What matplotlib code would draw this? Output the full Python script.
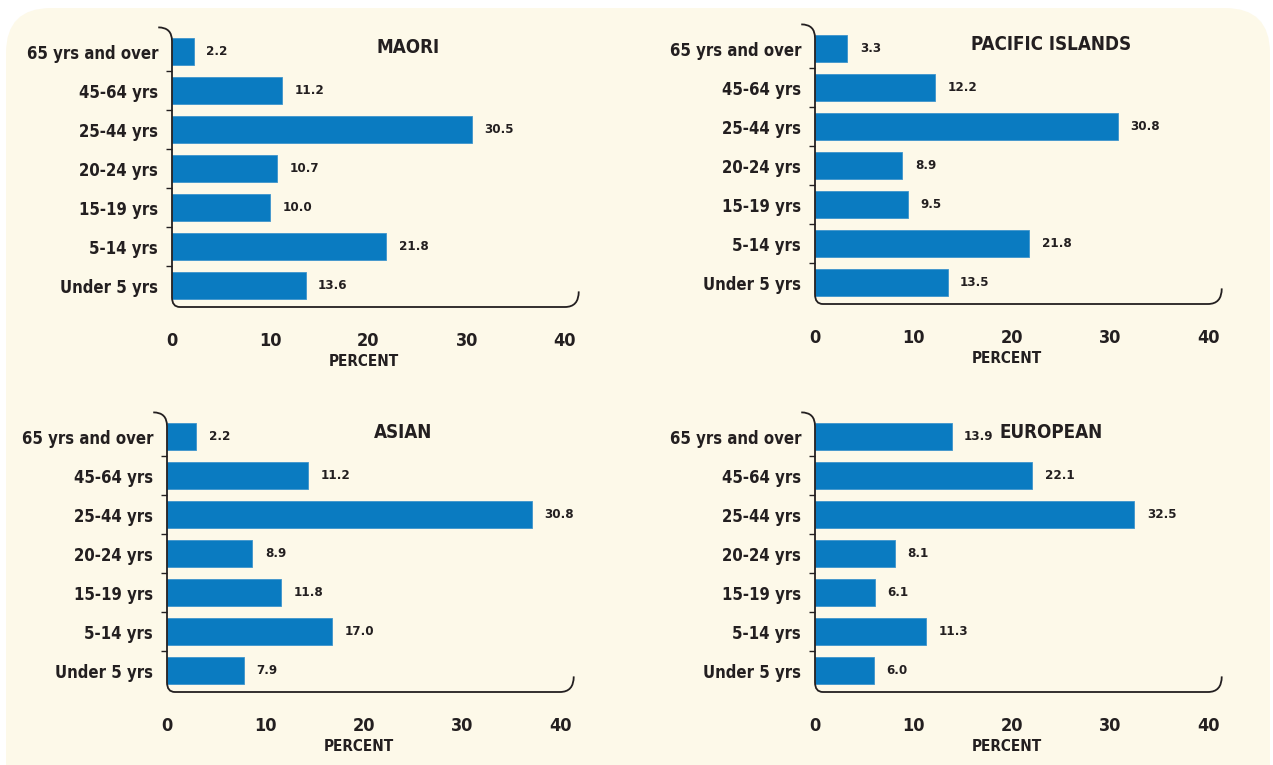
import matplotlib.pyplot as plt
from matplotlib.patches import FancyBboxPatch, PathPatch
from matplotlib.path import Path
from matplotlib.transforms import IdentityTransform

# age groups, bottom to top
ages = ["Under 5 yrs", "5-14 yrs", "15-19 yrs", "20-24 yrs", "25-44 yrs", "45-64 yrs", "65 yrs and over"]

maori = [13.6, 21.8, 10.0, 10.7, 30.5, 11.2, 2.2]
pacific = [13.5, 21.8, 9.5, 8.9, 30.8, 12.2, 3.3]
# asian bars in the picture are longer than their printed numbers
asian = [7.8, 16.8, 11.6, 8.7, 37.1, 14.4, 3.0]
asian_text = ["7.9", "17.0", "11.8", "8.9", "30.8", "11.2", "2.2"]
european = [6.0, 11.3, 6.1, 8.1, 32.5, 22.1, 13.9]

titles = ["MAORI", "PACIFIC ISLANDS", "ASIAN", "EUROPEAN"]
xticks = [0, 10, 20, 30, 40]

BLUE = "#0A7BC1"
INK = "#231F20"

plt.rcParams["font.family"] = ["DejaVu Sans"]
plt.rcParams["font.stretch"] = "condensed"

fig = plt.figure(figsize=(12.73, 7.65), dpi=100)
fig.patch.set_facecolor("white")

# cream rounded panel behind everything
bg = FancyBboxPatch((6, -60), 1264, 817, boxstyle="round,pad=0,rounding_size=45",
                    facecolor="#FDF9E9", edgecolor="none",
                    transform=IdentityTransform(), zorder=-10)
fig.add_artist(bg)

W, H = 1273, 765
# left edge (x=0) and bottom spine, in pixels from the top-left
boxes = [(172, 307), (815, 304), (167, 692), (815, 692)]
YLO, YHI = -0.55, 6.62


def panel(left_px, bottom_px, values, texts, title):
    w = 393 / W
    h = (YHI - YLO) * 39 / H
    ax = fig.add_axes([left_px / W, 1 - bottom_px / H, w, h])
    ax.set_facecolor("none")
    y = range(len(ages))
    ax.barh(y, values, height=0.7, color=BLUE, edgecolor="#3E94CC", linewidth=0.6)
    for i, (v, t) in enumerate(zip(values, texts)):
        ax.annotate(t, (v, i), xytext=(9, 0), textcoords="offset points",
                    va="center", ha="left", fontsize=9.5, fontweight="bold", color=INK)
    ax.text(24, 6.1, title, ha="center", va="center", fontsize=13.5,
            fontweight="bold", color=INK)

    ax.set_xlim(0, 40)
    ax.set_ylim(YLO, YHI)
    for s in ax.spines.values():
        s.set_visible(False)

    ax.set_xticks(xticks)
    ax.set_xticklabels([str(t) for t in xticks], fontsize=13, fontweight="bold", color=INK)
    ax.set_xticks(xticks[1:], minor=True)
    ax.set_yticks(list(y))
    ax.set_yticklabels(ages, fontsize=12, fontweight="bold", color=INK)
    ax.set_yticks([i + 0.5 for i in range(len(ages) - 1)], minor=True)
    ax.tick_params(axis="x", which="major", length=0, pad=18)
    ax.tick_params(axis="y", which="major", length=0, pad=10)
    ax.tick_params(which="minor", length=4, width=1, direction="out", color=INK)
    ax.set_xlabel("PERCENT", fontsize=11, fontweight="bold", color=INK,
                  labelpad=3, x=19.5 / 40)

    # curly bracket-like axis line
    verts = [(-1.4, YHI), (0, YHI), (0, YHI - 0.35),
             (0, YLO + 0.25), (0, YLO), (0.8, YLO),
             (40, YLO), (41.4, YLO), (41.4, YLO + 0.4)]
    codes = [Path.MOVETO, Path.CURVE3, Path.CURVE3,
             Path.LINETO, Path.CURVE3, Path.CURVE3,
             Path.LINETO, Path.CURVE3, Path.CURVE3]
    ax.add_patch(PathPatch(Path(verts, codes), fill=False, edgecolor=INK,
                           linewidth=1.3, clip_on=False))
    return ax


fmt = lambda vals: [f"{v:.1f}" for v in vals]
panel(*boxes[0], maori, fmt(maori), titles[0])
panel(*boxes[1], pacific, fmt(pacific), titles[1])
panel(*boxes[2], asian, asian_text, titles[2])
panel(*boxes[3], european, fmt(european), titles[3])

fig.savefig("out.png", dpi=100, facecolor=fig.get_facecolor())
